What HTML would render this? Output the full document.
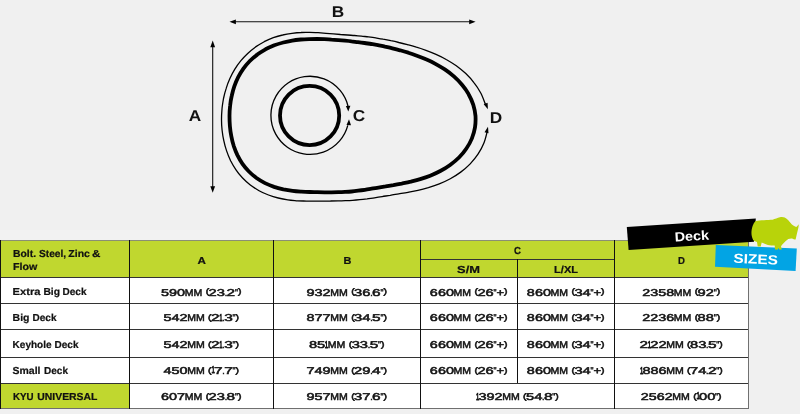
<!DOCTYPE html>
<html><head><meta charset="utf-8"><title>Deck Sizes</title>
<style>
html,body{margin:0;padding:0}
body{width:800px;height:414px;background:#f0f0f0;position:relative;overflow:hidden;font-family:"Liberation Sans",sans-serif;color:#111;text-rendering:geometricPrecision}
#dg{position:absolute;left:0;top:0}
.lb{position:absolute;will-change:transform;transform:scaleX(1.1);font-weight:bold;font-size:15.7px;line-height:16px;width:30px;text-align:center;color:#111}
#tx{position:absolute;left:0;top:0;will-change:transform;font-family:"Liberation Sans",sans-serif;font-weight:bold}
#tx .d{font-size:9.9px;fill:#141414;font-weight:normal;stroke:#141414;stroke-width:.5px}
#tx .b{font-size:10.15px;fill:#111;stroke:#111;stroke-width:.22px}
#tx .one{stroke:#141414;stroke-width:.8px}
#tx .p{font-size:7.9px}
i{position:absolute;display:block}
#bd{position:absolute;left:0;top:0;will-change:transform;font-family:"Liberation Sans",sans-serif}
.bt{position:absolute;color:#fff;font-weight:bold;white-space:nowrap}
</style></head><body>
<svg id="dg" width="800" height="240" viewBox="0 0 800 240">
<path d="M475.5,116.0C475.7,119.8 475.6,123.6 475.0,127.4C474.4,131.1 473.3,134.9 471.9,138.4C470.5,141.9 468.6,145.4 466.4,148.5C464.3,151.7 461.7,154.7 459.0,157.5C456.3,160.2 453.2,162.7 450.1,165.0C447.0,167.3 443.6,169.3 440.3,171.0C437.0,172.8 433.6,174.3 430.2,175.7C426.9,177.0 423.5,178.1 420.2,179.1C417.0,180.1 413.8,180.9 410.7,181.7C407.6,182.4 404.6,183.0 401.7,183.6C398.8,184.1 396.0,184.6 393.4,185.1C390.7,185.5 388.1,185.9 385.6,186.4C383.1,186.8 380.7,187.2 378.4,187.6C376.0,188.0 373.7,188.3 371.5,188.7C369.2,189.1 367.0,189.5 364.8,189.8C362.6,190.1 360.4,190.4 358.2,190.7C356.0,191.0 353.8,191.3 351.6,191.5C349.4,191.7 347.2,191.8 345.0,191.9C342.8,192.1 340.6,192.2 338.3,192.2C336.1,192.3 333.8,192.3 331.5,192.3C329.2,192.3 326.9,192.3 324.6,192.3C322.2,192.3 319.8,192.3 317.3,192.2C314.8,192.2 312.2,192.1 309.5,192.0C306.9,192.0 304.1,191.9 301.3,191.7C298.5,191.5 295.5,191.3 292.6,190.9C289.6,190.5 286.5,190.0 283.4,189.4C280.4,188.7 277.2,187.9 274.1,186.9C271.1,185.8 268.0,184.6 265.0,183.1C262.1,181.6 259.2,179.9 256.5,178.0C253.8,176.0 251.2,173.8 248.9,171.5C246.6,169.1 244.4,166.5 242.5,163.8C240.6,161.1 238.9,158.1 237.4,155.1C236.0,152.1 234.8,149.0 233.7,145.8C232.7,142.6 231.9,139.3 231.3,136.1C230.6,132.8 230.2,129.4 229.9,126.1C229.6,122.7 229.5,119.4 229.5,116.0C229.5,112.6 229.7,109.3 230.1,105.9C230.4,102.6 230.9,99.3 231.7,96.0C232.4,92.7 233.2,89.5 234.3,86.3C235.4,83.2 236.7,80.1 238.2,77.1C239.7,74.2 241.5,71.3 243.4,68.6C245.3,65.9 247.5,63.4 249.8,61.0C252.1,58.7 254.6,56.5 257.3,54.6C259.9,52.6 262.7,50.9 265.5,49.3C268.4,47.8 271.4,46.5 274.3,45.3C277.3,44.2 280.3,43.3 283.3,42.5C286.3,41.7 289.3,41.1 292.2,40.6C295.1,40.1 298.0,39.8 300.9,39.5C303.7,39.3 306.4,39.2 309.1,39.1C311.8,39.0 314.4,39.0 317.0,39.0C319.5,39.0 322.0,39.1 324.4,39.2C326.8,39.3 329.2,39.4 331.5,39.6C333.8,39.7 336.1,39.9 338.4,40.1C340.6,40.3 342.8,40.5 345.0,40.7C347.2,40.9 349.4,41.1 351.5,41.4C353.7,41.6 355.9,41.9 358.0,42.1C360.2,42.4 362.4,42.7 364.6,43.0C366.8,43.3 369.0,43.7 371.2,44.0C373.4,44.4 375.7,44.8 378.0,45.2C380.3,45.7 382.6,46.1 385.0,46.7C387.4,47.2 389.9,47.7 392.4,48.3C394.9,49.0 397.4,49.6 400.1,50.3C402.7,51.1 405.4,51.9 408.3,52.7C411.1,53.6 413.9,54.6 416.9,55.7C419.9,56.8 422.9,57.9 426.0,59.3C429.1,60.6 432.3,62.1 435.4,63.8C438.5,65.5 441.7,67.4 444.8,69.4C447.9,71.5 451.0,73.8 453.9,76.4C456.7,78.9 459.5,81.7 462.0,84.7C464.5,87.6 466.8,90.8 468.6,94.2C470.5,97.6 472.1,101.1 473.3,104.8C474.4,108.4 475.2,112.2 475.5,116.0Z" fill="none" stroke="#000" stroke-width="3.8"/>
<path d="M487.2,131.5C486.7,133.4 485.4,139.5 483.8,143.3C482.3,147.1 480.3,150.8 478.0,154.2C475.7,157.7 473.0,160.9 470.2,163.9C467.3,166.9 464.0,169.7 460.7,172.1C457.4,174.6 453.8,176.8 450.3,178.7C446.7,180.7 443.0,182.3 439.3,183.8C435.7,185.3 432.0,186.5 428.4,187.6C424.8,188.6 421.3,189.5 417.9,190.3C414.5,191.1 411.2,191.7 408.0,192.3C404.8,192.9 401.7,193.4 398.8,193.9C395.8,194.4 393.0,194.8 390.2,195.3C387.5,195.7 384.8,196.2 382.2,196.6C379.6,197.0 377.1,197.4 374.5,197.8C372.0,198.2 369.6,198.5 367.1,198.9C364.7,199.2 362.2,199.5 359.8,199.7C357.4,200.0 355.0,200.2 352.5,200.3C350.1,200.5 347.7,200.6 345.3,200.7C342.9,200.8 340.4,200.8 338.0,200.9C335.5,200.9 333.1,200.9 330.6,201.0C328.0,201.0 325.5,201.0 322.9,201.1C320.3,201.1 317.6,201.1 314.9,201.1C312.1,201.1 309.3,201.2 306.4,201.1C303.5,201.0 300.5,201.0 297.4,200.8C294.3,200.5 291.1,200.3 287.9,199.8C284.8,199.4 281.5,198.8 278.2,198.0C275.0,197.2 271.7,196.2 268.5,195.0C265.3,193.8 262.1,192.4 259.1,190.7C256.1,189.0 253.1,187.1 250.3,185.0C247.6,182.9 245.0,180.5 242.6,178.0C240.2,175.4 237.9,172.7 236.0,169.8C234.0,166.9 232.2,163.8 230.6,160.7C229.1,157.5 227.7,154.2 226.6,150.9C225.4,147.5 224.5,144.1 223.8,140.7C223.0,137.2 222.5,133.7 222.1,130.2C221.7,126.7 221.5,123.1 221.5,119.6C221.5,116.0 221.7,112.5 222.0,109.0C222.3,105.5 222.9,102.0 223.5,98.5C224.2,95.1 225.1,91.7 226.2,88.4C227.2,85.0 228.5,81.7 229.9,78.6C231.3,75.4 232.9,72.3 234.7,69.4C236.5,66.4 238.5,63.6 240.7,60.9C242.9,58.2 245.2,55.7 247.7,53.4C250.2,51.0 252.9,48.9 255.6,46.9C258.4,45.0 261.3,43.3 264.2,41.7C267.2,40.2 270.3,38.9 273.3,37.7C276.4,36.6 279.6,35.7 282.7,35.0C285.8,34.2 288.9,33.7 292.0,33.3C295.1,32.9 298.1,32.6 301.1,32.5C304.1,32.3 307.0,32.4 309.8,32.4C312.7,32.4 315.4,32.6 318.1,32.7C320.8,32.9 323.4,33.1 326.0,33.3C328.5,33.5 331.0,33.7 333.4,33.9C335.8,34.1 338.2,34.3 340.5,34.5C342.9,34.6 345.2,34.8 347.5,35.0C349.9,35.2 352.1,35.3 354.5,35.5C356.8,35.7 359.1,35.9 361.4,36.1C363.8,36.4 366.1,36.6 368.5,36.9C370.9,37.2 373.3,37.5 375.7,37.9C378.1,38.3 380.6,38.7 383.1,39.2C385.6,39.6 388.2,40.1 390.8,40.7C393.4,41.2 396.1,41.8 398.8,42.5C401.6,43.1 404.4,43.8 407.4,44.6C410.3,45.4 413.3,46.2 416.4,47.2C419.5,48.1 422.7,49.2 426.0,50.4C429.2,51.6 432.6,52.9 436.0,54.4C439.4,55.9 442.8,57.5 446.2,59.5C449.6,61.4 453.0,63.5 456.3,65.8C459.5,68.2 462.8,70.8 465.8,73.6C468.7,76.4 471.6,79.5 474.1,82.8C476.7,86.0 479.0,89.6 480.9,93.2C482.8,96.9 484.8,102.8 485.6,104.7" fill="none" stroke="#000" stroke-width="1.3"/>
<polygon points="488.0,126.8 488.5,133.3 484.5,132.3" fill="#000"/>
<polygon points="487.9,109.2 483.7,104.2 487.6,102.7" fill="#000"/>
<circle cx="309.6" cy="115.5" r="29.6" fill="none" stroke="#000" stroke-width="3.8"/>
<path d="M347.8,125.4A39.1,39.1 0 1 1 348.0,106.1" fill="none" stroke="#000" stroke-width="1.3"/>
<polygon points="349.0,119.2 351.0,125.3 346.5,125.1" fill="#000"/>
<polygon points="348.3,111.4 345.9,106.0 350.4,105.8" fill="#000"/>
<line x1="233" y1="21.8" x2="472" y2="21.8" stroke="#111" stroke-width="1.1"/>
<polygon points="229.5,21.8 235.9,19.4 235.9,24.2" fill="#000"/>
<polygon points="475.6,21.8 469.2,24.2 469.2,19.4" fill="#000"/>
<line x1="212.7" y1="45" x2="212.7" y2="188" stroke="#111" stroke-width="1.1"/>
<polygon points="212.7,40.6 215.1,47.2 210.3,47.2" fill="#000"/>
<polygon points="212.7,192.8 210.3,186.2 215.1,186.2" fill="#000"/>
</svg>
<div class="lb" style="left:323px;top:4.5px">B</div>
<div class="lb" style="left:179.9px;top:109.1px">A</div>
<div class="lb" style="left:344.2px;top:108.8px">C</div>
<div class="lb" style="left:481.2px;top:110.8px">D</div>
<i style="left:0;top:230px;width:800px;height:10px;background:#f2f2f2"></i><i style="left:0px;top:240px;width:749px;height:37px;background:#c0d72f"></i><i style="left:0px;top:277px;width:749px;height:131px;background:#fff"></i><i style="left:0px;top:383px;width:129px;height:25px;background:#c0d72f"></i>
<i style="left:0px;top:240px;width:749px;height:1px;background:#8b8f74"></i><i style="left:420px;top:259px;width:194px;height:1px;background:#333"></i><i style="left:0px;top:277px;width:749px;height:1px;background:#333"></i><i style="left:0px;top:303px;width:749px;height:1px;background:#333"></i><i style="left:0px;top:329px;width:749px;height:1px;background:#333"></i><i style="left:0px;top:357px;width:749px;height:1px;background:#333"></i><i style="left:0px;top:383px;width:749px;height:1px;background:#333"></i><i style="left:0px;top:408px;width:749px;height:1px;background:#6f6f6f"></i><i style="left:0px;top:240px;width:1px;height:169px;background:#111"></i><i style="left:129px;top:240px;width:1px;height:169px;background:#111"></i><i style="left:273px;top:240px;width:1px;height:169px;background:#111"></i><i style="left:420px;top:240px;width:1px;height:169px;background:#111"></i><i style="left:517px;top:259px;width:1px;height:124px;background:#111"></i><i style="left:614px;top:240px;width:1px;height:169px;background:#111"></i><i style="left:748px;top:240px;width:1px;height:169px;background:#707070"></i>
<svg id="tx" width="800" height="414" viewBox="0 0 800 414">
<text class="b" y="257.2"><tspan x="13.00" textLength="23.10" lengthAdjust="spacingAndGlyphs">Bolt.</tspan> <tspan x="39.00" textLength="27.10" lengthAdjust="spacingAndGlyphs">Steel,</tspan> <tspan x="68.35" textLength="21.55" lengthAdjust="spacingAndGlyphs">Zinc</tspan> <tspan x="92.10" textLength="8.40" lengthAdjust="spacingAndGlyphs">&amp;</tspan></text>
<text class="b" y="270.3"><tspan x="13.00" textLength="24.40" lengthAdjust="spacingAndGlyphs">Flow</tspan></text>
<text class="b" y="263.7"><tspan x="197.60" textLength="8.40" lengthAdjust="spacingAndGlyphs">A</tspan></text>
<text class="b" y="263.7"><tspan x="343.40" textLength="7.90" lengthAdjust="spacingAndGlyphs">B</tspan></text>
<text class="b" y="254"><tspan x="514.10" textLength="6.90" lengthAdjust="spacingAndGlyphs">C</tspan></text>
<text class="b" y="273"><tspan x="457.10" textLength="22.90" lengthAdjust="spacingAndGlyphs">S/M</tspan></text>
<text class="b" y="273"><tspan x="554.10" textLength="23.90" lengthAdjust="spacingAndGlyphs">L/XL</tspan></text>
<text class="b" y="263.5"><tspan x="678.00" textLength="6.90" lengthAdjust="spacingAndGlyphs">D</tspan></text>
<text class="b" y="295.2"><tspan x="12.60" textLength="27.90" lengthAdjust="spacingAndGlyphs">Extra</tspan> <tspan x="43.40" textLength="16.60" lengthAdjust="spacingAndGlyphs">Big</tspan> <tspan x="62.60" textLength="23.90" lengthAdjust="spacingAndGlyphs">Deck</tspan></text>
<text class="d" y="295.6"><tspan x="161.05" y="295.6" textLength="24.05" lengthAdjust="spacingAndGlyphs">590</tspan><tspan x="184.75" y="295.6" textLength="17.50" lengthAdjust="spacingAndGlyphs">MM</tspan> <tspan class="p" x="205.65" y="294.4" textLength="3.50" lengthAdjust="spacingAndGlyphs">(</tspan><tspan x="208.60" y="295.6" textLength="16.30" lengthAdjust="spacingAndGlyphs">23</tspan><tspan x="224.65" y="295.6" textLength="2.50" lengthAdjust="spacingAndGlyphs">.</tspan><tspan x="226.60" y="295.6" textLength="8.55" lengthAdjust="spacingAndGlyphs">2</tspan><tspan x="234.90" y="295.6" textLength="3.00" lengthAdjust="spacingAndGlyphs">"</tspan><tspan class="p" x="237.90" y="294.4" textLength="3.50" lengthAdjust="spacingAndGlyphs">)</tspan></text>
<text class="d" y="295.6"><tspan x="306.55" y="295.6" textLength="24.05" lengthAdjust="spacingAndGlyphs">932</tspan><tspan x="330.25" y="295.6" textLength="17.50" lengthAdjust="spacingAndGlyphs">MM</tspan> <tspan class="p" x="351.15" y="294.4" textLength="3.50" lengthAdjust="spacingAndGlyphs">(</tspan><tspan x="354.10" y="295.6" textLength="16.30" lengthAdjust="spacingAndGlyphs">36</tspan><tspan x="370.15" y="295.6" textLength="2.50" lengthAdjust="spacingAndGlyphs">.</tspan><tspan x="372.10" y="295.6" textLength="8.55" lengthAdjust="spacingAndGlyphs">6</tspan><tspan x="380.40" y="295.6" textLength="3.00" lengthAdjust="spacingAndGlyphs">"</tspan><tspan class="p" x="383.40" y="294.4" textLength="3.50" lengthAdjust="spacingAndGlyphs">)</tspan></text>
<text class="d" y="295.6"><tspan x="429.88" y="295.6" textLength="24.05" lengthAdjust="spacingAndGlyphs">660</tspan><tspan x="453.57" y="295.6" textLength="17.50" lengthAdjust="spacingAndGlyphs">MM</tspan> <tspan class="p" x="474.47" y="294.4" textLength="3.50" lengthAdjust="spacingAndGlyphs">(</tspan><tspan x="477.42" y="295.6" textLength="16.30" lengthAdjust="spacingAndGlyphs">26</tspan><tspan x="493.47" y="295.6" textLength="3.00" lengthAdjust="spacingAndGlyphs">"</tspan><tspan x="496.47" y="295.6" textLength="7.60" lengthAdjust="spacingAndGlyphs">+</tspan><tspan class="p" x="504.07" y="294.4" textLength="3.50" lengthAdjust="spacingAndGlyphs">)</tspan></text>
<text class="d" y="295.6"><tspan x="526.88" y="295.6" textLength="24.05" lengthAdjust="spacingAndGlyphs">860</tspan><tspan x="550.57" y="295.6" textLength="17.50" lengthAdjust="spacingAndGlyphs">MM</tspan> <tspan class="p" x="571.47" y="294.4" textLength="3.50" lengthAdjust="spacingAndGlyphs">(</tspan><tspan x="574.42" y="295.6" textLength="16.30" lengthAdjust="spacingAndGlyphs">34</tspan><tspan x="590.47" y="295.6" textLength="3.00" lengthAdjust="spacingAndGlyphs">"</tspan><tspan x="593.47" y="295.6" textLength="7.60" lengthAdjust="spacingAndGlyphs">+</tspan><tspan class="p" x="601.07" y="294.4" textLength="3.50" lengthAdjust="spacingAndGlyphs">)</tspan></text>
<text class="d" y="295.6"><tspan x="642.30" y="295.6" textLength="31.80" lengthAdjust="spacingAndGlyphs">2358</tspan><tspan x="673.75" y="295.6" textLength="17.50" lengthAdjust="spacingAndGlyphs">MM</tspan> <tspan class="p" x="694.65" y="294.4" textLength="3.50" lengthAdjust="spacingAndGlyphs">(</tspan><tspan x="697.60" y="295.6" textLength="16.30" lengthAdjust="spacingAndGlyphs">92</tspan><tspan x="713.65" y="295.6" textLength="3.00" lengthAdjust="spacingAndGlyphs">"</tspan><tspan class="p" x="716.65" y="294.4" textLength="3.50" lengthAdjust="spacingAndGlyphs">)</tspan></text>
<text class="b" y="320.8"><tspan x="12.60" textLength="16.90" lengthAdjust="spacingAndGlyphs">Big</tspan> <tspan x="32.60" textLength="23.90" lengthAdjust="spacingAndGlyphs">Deck</tspan></text>
<text class="d" y="321.0"><tspan x="163.47" y="321.0" textLength="24.05" lengthAdjust="spacingAndGlyphs">542</tspan><tspan x="187.18" y="321.0" textLength="17.50" lengthAdjust="spacingAndGlyphs">MM</tspan> <tspan class="p" x="208.08" y="319.8" textLength="3.50" lengthAdjust="spacingAndGlyphs">(</tspan><tspan x="211.03" y="321.0" textLength="8.55" lengthAdjust="spacingAndGlyphs">2</tspan><tspan class="one" x="219.13" textLength="3.3" lengthAdjust="spacingAndGlyphs">1</tspan><tspan x="222.23" y="321.0" textLength="2.50" lengthAdjust="spacingAndGlyphs">.</tspan><tspan x="224.18" y="321.0" textLength="8.55" lengthAdjust="spacingAndGlyphs">3</tspan><tspan x="232.48" y="321.0" textLength="3.00" lengthAdjust="spacingAndGlyphs">"</tspan><tspan class="p" x="235.48" y="319.8" textLength="3.50" lengthAdjust="spacingAndGlyphs">)</tspan></text>
<text class="d" y="321.0"><tspan x="306.55" y="321.0" textLength="24.05" lengthAdjust="spacingAndGlyphs">877</tspan><tspan x="330.25" y="321.0" textLength="17.50" lengthAdjust="spacingAndGlyphs">MM</tspan> <tspan class="p" x="351.15" y="319.8" textLength="3.50" lengthAdjust="spacingAndGlyphs">(</tspan><tspan x="354.10" y="321.0" textLength="16.30" lengthAdjust="spacingAndGlyphs">34</tspan><tspan x="370.15" y="321.0" textLength="2.50" lengthAdjust="spacingAndGlyphs">.</tspan><tspan x="372.10" y="321.0" textLength="8.55" lengthAdjust="spacingAndGlyphs">5</tspan><tspan x="380.40" y="321.0" textLength="3.00" lengthAdjust="spacingAndGlyphs">"</tspan><tspan class="p" x="383.40" y="319.8" textLength="3.50" lengthAdjust="spacingAndGlyphs">)</tspan></text>
<text class="d" y="321.0"><tspan x="429.88" y="321.0" textLength="24.05" lengthAdjust="spacingAndGlyphs">660</tspan><tspan x="453.57" y="321.0" textLength="17.50" lengthAdjust="spacingAndGlyphs">MM</tspan> <tspan class="p" x="474.47" y="319.8" textLength="3.50" lengthAdjust="spacingAndGlyphs">(</tspan><tspan x="477.42" y="321.0" textLength="16.30" lengthAdjust="spacingAndGlyphs">26</tspan><tspan x="493.47" y="321.0" textLength="3.00" lengthAdjust="spacingAndGlyphs">"</tspan><tspan x="496.47" y="321.0" textLength="7.60" lengthAdjust="spacingAndGlyphs">+</tspan><tspan class="p" x="504.07" y="319.8" textLength="3.50" lengthAdjust="spacingAndGlyphs">)</tspan></text>
<text class="d" y="321.0"><tspan x="526.88" y="321.0" textLength="24.05" lengthAdjust="spacingAndGlyphs">860</tspan><tspan x="550.57" y="321.0" textLength="17.50" lengthAdjust="spacingAndGlyphs">MM</tspan> <tspan class="p" x="571.47" y="319.8" textLength="3.50" lengthAdjust="spacingAndGlyphs">(</tspan><tspan x="574.42" y="321.0" textLength="16.30" lengthAdjust="spacingAndGlyphs">34</tspan><tspan x="590.47" y="321.0" textLength="3.00" lengthAdjust="spacingAndGlyphs">"</tspan><tspan x="593.47" y="321.0" textLength="7.60" lengthAdjust="spacingAndGlyphs">+</tspan><tspan class="p" x="601.07" y="319.8" textLength="3.50" lengthAdjust="spacingAndGlyphs">)</tspan></text>
<text class="d" y="321.0"><tspan x="642.30" y="321.0" textLength="31.80" lengthAdjust="spacingAndGlyphs">2236</tspan><tspan x="673.75" y="321.0" textLength="17.50" lengthAdjust="spacingAndGlyphs">MM</tspan> <tspan class="p" x="694.65" y="319.8" textLength="3.50" lengthAdjust="spacingAndGlyphs">(</tspan><tspan x="697.60" y="321.0" textLength="16.30" lengthAdjust="spacingAndGlyphs">88</tspan><tspan x="713.65" y="321.0" textLength="3.00" lengthAdjust="spacingAndGlyphs">"</tspan><tspan class="p" x="716.65" y="319.8" textLength="3.50" lengthAdjust="spacingAndGlyphs">)</tspan></text>
<text class="b" y="347.7"><tspan x="12.60" textLength="38.90" lengthAdjust="spacingAndGlyphs">Keyhole</tspan> <tspan x="54.60" textLength="23.90" lengthAdjust="spacingAndGlyphs">Deck</tspan></text>
<text class="d" y="347.8"><tspan x="163.47" y="347.8" textLength="24.05" lengthAdjust="spacingAndGlyphs">542</tspan><tspan x="187.18" y="347.8" textLength="17.50" lengthAdjust="spacingAndGlyphs">MM</tspan> <tspan class="p" x="208.08" y="346.6" textLength="3.50" lengthAdjust="spacingAndGlyphs">(</tspan><tspan x="211.03" y="347.8" textLength="8.55" lengthAdjust="spacingAndGlyphs">2</tspan><tspan class="one" x="219.13" textLength="3.3" lengthAdjust="spacingAndGlyphs">1</tspan><tspan x="222.23" y="347.8" textLength="2.50" lengthAdjust="spacingAndGlyphs">.</tspan><tspan x="224.18" y="347.8" textLength="8.55" lengthAdjust="spacingAndGlyphs">3</tspan><tspan x="232.48" y="347.8" textLength="3.00" lengthAdjust="spacingAndGlyphs">"</tspan><tspan class="p" x="235.48" y="346.6" textLength="3.50" lengthAdjust="spacingAndGlyphs">)</tspan></text>
<text class="d" y="347.8"><tspan x="308.97" y="347.8" textLength="16.30" lengthAdjust="spacingAndGlyphs">85</tspan><tspan class="one" x="324.82" textLength="3.3" lengthAdjust="spacingAndGlyphs">1</tspan><tspan x="327.82" y="347.8" textLength="17.50" lengthAdjust="spacingAndGlyphs">MM</tspan> <tspan class="p" x="348.72" y="346.6" textLength="3.50" lengthAdjust="spacingAndGlyphs">(</tspan><tspan x="351.67" y="347.8" textLength="16.30" lengthAdjust="spacingAndGlyphs">33</tspan><tspan x="367.72" y="347.8" textLength="2.50" lengthAdjust="spacingAndGlyphs">.</tspan><tspan x="369.67" y="347.8" textLength="8.55" lengthAdjust="spacingAndGlyphs">5</tspan><tspan x="377.97" y="347.8" textLength="3.00" lengthAdjust="spacingAndGlyphs">"</tspan><tspan class="p" x="380.97" y="346.6" textLength="3.50" lengthAdjust="spacingAndGlyphs">)</tspan></text>
<text class="d" y="347.8"><tspan x="429.88" y="347.8" textLength="24.05" lengthAdjust="spacingAndGlyphs">660</tspan><tspan x="453.57" y="347.8" textLength="17.50" lengthAdjust="spacingAndGlyphs">MM</tspan> <tspan class="p" x="474.47" y="346.6" textLength="3.50" lengthAdjust="spacingAndGlyphs">(</tspan><tspan x="477.42" y="347.8" textLength="16.30" lengthAdjust="spacingAndGlyphs">26</tspan><tspan x="493.47" y="347.8" textLength="3.00" lengthAdjust="spacingAndGlyphs">"</tspan><tspan x="496.47" y="347.8" textLength="7.60" lengthAdjust="spacingAndGlyphs">+</tspan><tspan class="p" x="504.07" y="346.6" textLength="3.50" lengthAdjust="spacingAndGlyphs">)</tspan></text>
<text class="d" y="347.8"><tspan x="526.88" y="347.8" textLength="24.05" lengthAdjust="spacingAndGlyphs">860</tspan><tspan x="550.57" y="347.8" textLength="17.50" lengthAdjust="spacingAndGlyphs">MM</tspan> <tspan class="p" x="571.47" y="346.6" textLength="3.50" lengthAdjust="spacingAndGlyphs">(</tspan><tspan x="574.42" y="347.8" textLength="16.30" lengthAdjust="spacingAndGlyphs">34</tspan><tspan x="590.47" y="347.8" textLength="3.00" lengthAdjust="spacingAndGlyphs">"</tspan><tspan x="593.47" y="347.8" textLength="7.60" lengthAdjust="spacingAndGlyphs">+</tspan><tspan class="p" x="601.07" y="346.6" textLength="3.50" lengthAdjust="spacingAndGlyphs">)</tspan></text>
<text class="d" y="347.8"><tspan x="639.60" y="347.8" textLength="8.55" lengthAdjust="spacingAndGlyphs">2</tspan><tspan class="one" x="647.70" textLength="3.3" lengthAdjust="spacingAndGlyphs">1</tspan><tspan x="650.25" y="347.8" textLength="16.30" lengthAdjust="spacingAndGlyphs">22</tspan><tspan x="666.20" y="347.8" textLength="17.50" lengthAdjust="spacingAndGlyphs">MM</tspan> <tspan class="p" x="687.10" y="346.6" textLength="3.50" lengthAdjust="spacingAndGlyphs">(</tspan><tspan x="690.05" y="347.8" textLength="16.30" lengthAdjust="spacingAndGlyphs">83</tspan><tspan x="706.10" y="347.8" textLength="2.50" lengthAdjust="spacingAndGlyphs">.</tspan><tspan x="708.05" y="347.8" textLength="8.55" lengthAdjust="spacingAndGlyphs">5</tspan><tspan x="716.35" y="347.8" textLength="3.00" lengthAdjust="spacingAndGlyphs">"</tspan><tspan class="p" x="719.35" y="346.6" textLength="3.50" lengthAdjust="spacingAndGlyphs">)</tspan></text>
<text class="b" y="374.0"><tspan x="12.60" textLength="27.90" lengthAdjust="spacingAndGlyphs">Small</tspan> <tspan x="44.10" textLength="23.90" lengthAdjust="spacingAndGlyphs">Deck</tspan></text>
<text class="d" y="374.1"><tspan x="163.47" y="374.1" textLength="24.05" lengthAdjust="spacingAndGlyphs">450</tspan><tspan x="187.18" y="374.1" textLength="17.50" lengthAdjust="spacingAndGlyphs">MM</tspan> <tspan class="p" x="208.08" y="372.9" textLength="3.50" lengthAdjust="spacingAndGlyphs">(</tspan><tspan class="one" x="211.38" textLength="3.3" lengthAdjust="spacingAndGlyphs">1</tspan><tspan x="213.93" y="374.1" textLength="8.55" lengthAdjust="spacingAndGlyphs">7</tspan><tspan x="222.23" y="374.1" textLength="2.50" lengthAdjust="spacingAndGlyphs">.</tspan><tspan x="224.18" y="374.1" textLength="8.55" lengthAdjust="spacingAndGlyphs">7</tspan><tspan x="232.48" y="374.1" textLength="3.00" lengthAdjust="spacingAndGlyphs">"</tspan><tspan class="p" x="235.48" y="372.9" textLength="3.50" lengthAdjust="spacingAndGlyphs">)</tspan></text>
<text class="d" y="374.1"><tspan x="306.55" y="374.1" textLength="24.05" lengthAdjust="spacingAndGlyphs">749</tspan><tspan x="330.25" y="374.1" textLength="17.50" lengthAdjust="spacingAndGlyphs">MM</tspan> <tspan class="p" x="351.15" y="372.9" textLength="3.50" lengthAdjust="spacingAndGlyphs">(</tspan><tspan x="354.10" y="374.1" textLength="16.30" lengthAdjust="spacingAndGlyphs">29</tspan><tspan x="370.15" y="374.1" textLength="2.50" lengthAdjust="spacingAndGlyphs">.</tspan><tspan x="372.10" y="374.1" textLength="8.55" lengthAdjust="spacingAndGlyphs">4</tspan><tspan x="380.40" y="374.1" textLength="3.00" lengthAdjust="spacingAndGlyphs">"</tspan><tspan class="p" x="383.40" y="372.9" textLength="3.50" lengthAdjust="spacingAndGlyphs">)</tspan></text>
<text class="d" y="374.1"><tspan x="429.88" y="374.1" textLength="24.05" lengthAdjust="spacingAndGlyphs">660</tspan><tspan x="453.57" y="374.1" textLength="17.50" lengthAdjust="spacingAndGlyphs">MM</tspan> <tspan class="p" x="474.47" y="372.9" textLength="3.50" lengthAdjust="spacingAndGlyphs">(</tspan><tspan x="477.42" y="374.1" textLength="16.30" lengthAdjust="spacingAndGlyphs">26</tspan><tspan x="493.47" y="374.1" textLength="3.00" lengthAdjust="spacingAndGlyphs">"</tspan><tspan x="496.47" y="374.1" textLength="7.60" lengthAdjust="spacingAndGlyphs">+</tspan><tspan class="p" x="504.07" y="372.9" textLength="3.50" lengthAdjust="spacingAndGlyphs">)</tspan></text>
<text class="d" y="374.1"><tspan x="526.88" y="374.1" textLength="24.05" lengthAdjust="spacingAndGlyphs">860</tspan><tspan x="550.57" y="374.1" textLength="17.50" lengthAdjust="spacingAndGlyphs">MM</tspan> <tspan class="p" x="571.47" y="372.9" textLength="3.50" lengthAdjust="spacingAndGlyphs">(</tspan><tspan x="574.42" y="374.1" textLength="16.30" lengthAdjust="spacingAndGlyphs">34</tspan><tspan x="590.47" y="374.1" textLength="3.00" lengthAdjust="spacingAndGlyphs">"</tspan><tspan x="593.47" y="374.1" textLength="7.60" lengthAdjust="spacingAndGlyphs">+</tspan><tspan class="p" x="601.07" y="372.9" textLength="3.50" lengthAdjust="spacingAndGlyphs">)</tspan></text>
<text class="d" y="374.1"><tspan class="one" x="639.95" textLength="3.3" lengthAdjust="spacingAndGlyphs">1</tspan><tspan x="642.50" y="374.1" textLength="24.05" lengthAdjust="spacingAndGlyphs">886</tspan><tspan x="666.20" y="374.1" textLength="17.50" lengthAdjust="spacingAndGlyphs">MM</tspan> <tspan class="p" x="687.10" y="372.9" textLength="3.50" lengthAdjust="spacingAndGlyphs">(</tspan><tspan x="690.05" y="374.1" textLength="16.30" lengthAdjust="spacingAndGlyphs">74</tspan><tspan x="706.10" y="374.1" textLength="2.50" lengthAdjust="spacingAndGlyphs">.</tspan><tspan x="708.05" y="374.1" textLength="8.55" lengthAdjust="spacingAndGlyphs">2</tspan><tspan x="716.35" y="374.1" textLength="3.00" lengthAdjust="spacingAndGlyphs">"</tspan><tspan class="p" x="719.35" y="372.9" textLength="3.50" lengthAdjust="spacingAndGlyphs">)</tspan></text>
<text class="b" y="400.0"><tspan x="13.00" textLength="20.60" lengthAdjust="spacingAndGlyphs">KYU</tspan> <tspan x="37.35" textLength="60.05" lengthAdjust="spacingAndGlyphs">UNIVERSAL</tspan></text>
<text class="d" y="399.8"><tspan x="161.05" y="399.8" textLength="24.05" lengthAdjust="spacingAndGlyphs">607</tspan><tspan x="184.75" y="399.8" textLength="17.50" lengthAdjust="spacingAndGlyphs">MM</tspan> <tspan class="p" x="205.65" y="398.6" textLength="3.50" lengthAdjust="spacingAndGlyphs">(</tspan><tspan x="208.60" y="399.8" textLength="16.30" lengthAdjust="spacingAndGlyphs">23</tspan><tspan x="224.65" y="399.8" textLength="2.50" lengthAdjust="spacingAndGlyphs">.</tspan><tspan x="226.60" y="399.8" textLength="8.55" lengthAdjust="spacingAndGlyphs">8</tspan><tspan x="234.90" y="399.8" textLength="3.00" lengthAdjust="spacingAndGlyphs">"</tspan><tspan class="p" x="237.90" y="398.6" textLength="3.50" lengthAdjust="spacingAndGlyphs">)</tspan></text>
<text class="d" y="399.8"><tspan x="306.55" y="399.8" textLength="24.05" lengthAdjust="spacingAndGlyphs">957</tspan><tspan x="330.25" y="399.8" textLength="17.50" lengthAdjust="spacingAndGlyphs">MM</tspan> <tspan class="p" x="351.15" y="398.6" textLength="3.50" lengthAdjust="spacingAndGlyphs">(</tspan><tspan x="354.10" y="399.8" textLength="16.30" lengthAdjust="spacingAndGlyphs">37</tspan><tspan x="370.15" y="399.8" textLength="2.50" lengthAdjust="spacingAndGlyphs">.</tspan><tspan x="372.10" y="399.8" textLength="8.55" lengthAdjust="spacingAndGlyphs">6</tspan><tspan x="380.40" y="399.8" textLength="3.00" lengthAdjust="spacingAndGlyphs">"</tspan><tspan class="p" x="383.40" y="398.6" textLength="3.50" lengthAdjust="spacingAndGlyphs">)</tspan></text>
<text class="d" y="399.8"><tspan class="one" x="475.95" textLength="3.3" lengthAdjust="spacingAndGlyphs">1</tspan><tspan x="478.50" y="399.8" textLength="24.05" lengthAdjust="spacingAndGlyphs">392</tspan><tspan x="502.20" y="399.8" textLength="17.50" lengthAdjust="spacingAndGlyphs">MM</tspan> <tspan class="p" x="523.10" y="398.6" textLength="3.50" lengthAdjust="spacingAndGlyphs">(</tspan><tspan x="526.05" y="399.8" textLength="16.30" lengthAdjust="spacingAndGlyphs">54</tspan><tspan x="542.10" y="399.8" textLength="2.50" lengthAdjust="spacingAndGlyphs">.</tspan><tspan x="544.05" y="399.8" textLength="8.55" lengthAdjust="spacingAndGlyphs">8</tspan><tspan x="552.35" y="399.8" textLength="3.00" lengthAdjust="spacingAndGlyphs">"</tspan><tspan class="p" x="555.35" y="398.6" textLength="3.50" lengthAdjust="spacingAndGlyphs">)</tspan></text>
<text class="d" y="399.8"><tspan x="640.85" y="399.8" textLength="31.80" lengthAdjust="spacingAndGlyphs">2562</tspan><tspan x="672.30" y="399.8" textLength="17.50" lengthAdjust="spacingAndGlyphs">MM</tspan> <tspan class="p" x="693.20" y="398.6" textLength="3.50" lengthAdjust="spacingAndGlyphs">(</tspan><tspan class="one" x="696.50" textLength="3.3" lengthAdjust="spacingAndGlyphs">1</tspan><tspan x="699.05" y="399.8" textLength="16.30" lengthAdjust="spacingAndGlyphs">00</tspan><tspan x="715.10" y="399.8" textLength="3.00" lengthAdjust="spacingAndGlyphs">"</tspan><tspan class="p" x="718.10" y="398.6" textLength="3.50" lengthAdjust="spacingAndGlyphs">)</tspan></text>
</svg>
<svg id="bd" width="800" height="414" viewBox="0 0 800 414">
<polygon points="626.8,226.9 755.8,218.6 754,241.8 628.6,250.1" fill="#000"/>
<polygon points="715.8,245 796.8,248.5 795.6,271 715,266.8" fill="#02a4e4"/>
<path d="M755.7,220.9 C760,220.2 768,220 772.6,219.7 C775,219 777.5,217.6 779.9,217.2 C781.5,216.8 783.5,216.9 784.7,217.5 C786,218.2 787.3,219.2 788.3,220.3 C789.6,221.7 790.8,223.3 791.9,224.5 C793.3,225.6 794.8,226.5 796.2,226.9 C797.2,226.4 798,225.4 798.6,224.3 C798.8,226 798.5,227.8 798,229.3 L796.8,234.2 L795.6,239.6 C794.4,239.6 793,238.8 791.9,238.4 C790.7,238.3 789.4,238.5 788.3,239 C786.5,240.2 784.9,241.8 783.5,243.2 C782.5,244.2 781.6,245.2 781,246.2 L781.8,249.4 L779.2,249.6 L778.6,247.4 L778,249.6 L775,249.6 L774.7,245.6 C772.8,245.6 770,245.4 767.8,245 C765.7,244.4 763.6,243.5 761.7,242.6 L760.7,246.5 L757.7,246.5 L757,242 C755.6,241.6 754.3,241 753.3,240.2 C752.3,238.4 751.7,236.2 751.5,234.2 C751.3,231.3 751.8,228.2 752.7,225.7 C753.4,223.8 754.4,222 755.7,220.9Z" fill="#b8d30a"/>
<text transform="rotate(-3.6 692 236)" x="674.7" y="240.5" textLength="34.4" lengthAdjust="spacingAndGlyphs" font-size="13.2" font-weight="bold" fill="#fff">Deck</text>
<text transform="rotate(2.5 755.7 259)" x="733.5" y="263.7" textLength="44.4" lengthAdjust="spacingAndGlyphs" font-size="13.4" font-weight="bold" fill="#fff">SIZES</text>
</svg>
</body></html>
